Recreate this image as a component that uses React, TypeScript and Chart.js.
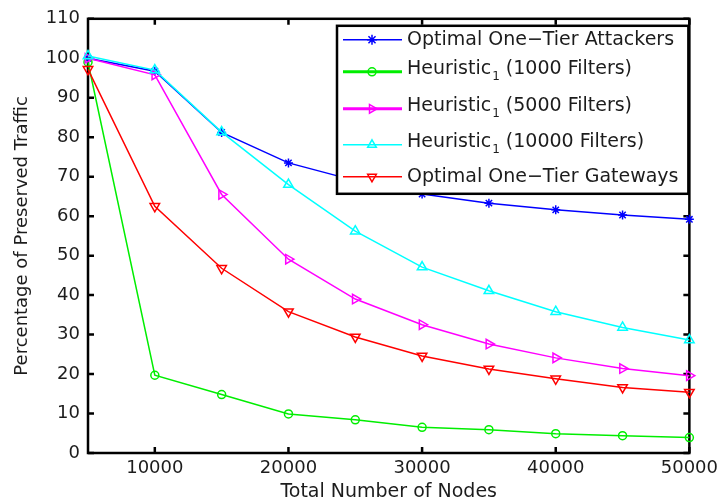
import React, { useEffect, useRef } from "react";
import { Chart, registerables } from "chart.js";

Chart.register(...registerables);

// ---- data ----
const xValues = [5000, 10000, 15000, 20000, 25000, 30000, 35000, 40000, 45000, 50000];
const xTickValues = [10000, 20000, 30000, 40000, 50000];
const yTickValues = [0, 10, 20, 30, 40, 50, 60, 70, 80, 90, 100, 110];

const attackers = [100, 96.7, 81.2, 73.5, 69.0, 65.6, 63.3, 61.6, 60.3, 59.2];
const heur1000 = [99, 19.7, 14.8, 9.9, 8.4, 6.5, 5.9, 4.9, 4.4, 3.9];
const heur5000 = [100, 95.8, 65.5, 49.1, 39.0, 32.5, 27.6, 24.1, 21.4, 19.6];
const heur10000 = [100.6, 97, 81.3, 68, 56.2, 47.1, 41.1, 35.8, 31.8, 28.6];
const gateways = [97.2, 62.5, 46.8, 35.8, 29.4, 24.6, 21.3, 18.8, 16.6, 15.4];

const legendItems = [
  { main: "Optimal One\u2212Tier Attackers", sub: "", rest: "", color: "#0000ff", marker: "star", lw: 1.5 },
  { main: "Heuristic", sub: "1", rest: " (1000 Filters)", color: "#00ee00", marker: "circle", lw: 3 },
  { main: "Heuristic", sub: "1", rest: " (5000 Filters)", color: "#ff00ff", marker: "right", lw: 3 },
  { main: "Heuristic", sub: "1", rest: " (10000 Filters)", color: "#00ffff", marker: "up", lw: 1.5 },
  { main: "Optimal One\u2212Tier Gateways", sub: "", rest: "", color: "#ff0000", marker: "down", lw: 1.5 },
];

const FONT = "'DejaVu Sans', sans-serif";
const TEXT = "#1c1c1c";

function drawMarker(ctx: CanvasRenderingContext2D, kind: string, x: number, y: number, r: number, color: string) {
  ctx.save();
  ctx.strokeStyle = color;
  ctx.lineWidth = 1.5;
  ctx.beginPath();
  if (kind === "circle") {
    ctx.arc(x, y, r, 0, Math.PI * 2);
  } else if (kind === "star") {
    for (let k = 0; k < 4; k++) {
      const a = (k * Math.PI) / 4;
      ctx.moveTo(x - Math.cos(a) * r, y - Math.sin(a) * r);
      ctx.lineTo(x + Math.cos(a) * r, y + Math.sin(a) * r);
    }
  } else {
    const rot = kind === "up" ? 0 : kind === "right" ? Math.PI / 2 : Math.PI;
    for (let k = 0; k < 3; k++) {
      const a = rot + (k * 2 * Math.PI) / 3 - Math.PI / 2;
      const px = x + Math.cos(a) * r;
      const py = y + Math.sin(a) * r;
      if (k === 0) ctx.moveTo(px, py);
      else ctx.lineTo(px, py);
    }
    ctx.closePath();
  }
  ctx.stroke();
  ctx.restore();
}

const boxPlugin = {
  id: "matlabBox",
  beforeDatasetsDraw(chart: any) {
    const { ctx, chartArea: a, scales } = chart;
    ctx.save();
    ctx.strokeStyle = "#000";
    ctx.lineWidth = 2.5;
    ctx.strokeRect(a.left, a.top, a.right - a.left, a.bottom - a.top);
    const tl = 6;
    ctx.beginPath();
    xTickValues.forEach((v) => {
      const px = scales.x.getPixelForValue(v);
      ctx.moveTo(px, a.bottom);
      ctx.lineTo(px, a.bottom - tl);
      ctx.moveTo(px, a.top);
      ctx.lineTo(px, a.top + tl);
    });
    yTickValues.forEach((v) => {
      const py = scales.y.getPixelForValue(v);
      ctx.moveTo(a.left, py);
      ctx.lineTo(a.left + tl, py);
      ctx.moveTo(a.right, py);
      ctx.lineTo(a.right - tl, py);
    });
    ctx.stroke();
    ctx.restore();
  },
};

const legendPlugin = {
  id: "boxLegend",
  afterDraw(chart: any) {
    const { ctx, chartArea: a } = chart;
    const left = a.left + 249;
    const top = a.top + 7;
    const right = a.right - 1;
    const bottom = a.top + 175;
    ctx.save();
    ctx.fillStyle = "#fff";
    ctx.fillRect(left, top, right - left, bottom - top);
    ctx.strokeStyle = "#000";
    ctx.lineWidth = 2.5;
    ctx.strokeRect(left, top, right - left, bottom - top);
    const rowY = [14, 46, 83, 119, 151];
    legendItems.forEach((it, i) => {
      const ly = top + rowY[i];
      ctx.strokeStyle = it.color;
      ctx.lineWidth = it.lw;
      ctx.beginPath();
      ctx.moveTo(left + 6, ly);
      ctx.lineTo(left + 65, ly);
      ctx.stroke();
      drawMarker(ctx, it.marker, left + 35, ly, it.marker === "circle" ? 4 : 5, it.color);
      const ty = it.sub ? ly - 3 : ly;
      let tx = left + 70;
      ctx.fillStyle = TEXT;
      ctx.textBaseline = "middle";
      ctx.textAlign = "left";
      ctx.font = `19px ${FONT}`;
      ctx.fillText(it.main, tx, ty);
      tx += ctx.measureText(it.main).width;
      if (it.sub) {
        ctx.font = `12px ${FONT}`;
        ctx.fillText(it.sub, tx + 1, ty + 8);
        tx += ctx.measureText(it.sub).width + 1;
        ctx.font = `19px ${FONT}`;
        ctx.fillText(it.rest, tx, ty);
      }
    });
    ctx.restore();
  },
};

export default function App() {
  const ref = useRef<HTMLCanvasElement>(null);
  useEffect(() => {
    const canvas = ref.current;
    if (!canvas) return;
    const mk = (label: string, data: number[], color: string, style: string, rotation: number, radius: number, order: number) => ({
      label,
      data: xValues.map((x, i) => ({ x, y: data[i] })),
      borderColor: color,
      backgroundColor: color,
      pointBorderColor: color,
      pointBackgroundColor: "rgba(0,0,0,0)",
      pointStyle: style,
      pointRotation: rotation,
      pointRadius: radius,
      pointBorderWidth: 1.5,
      borderWidth: 1.5,
      tension: 0,
      clip: false,
      order,
    });
    const tickFont = { family: FONT, size: 18 };
    const chart = new Chart(canvas, {
      type: "line",
      data: {
        datasets: [
          mk("Optimal One-Tier Attackers", attackers, "#0000ff", "star", 0, 4.5, 5),
          mk("Heuristic1 (1000 Filters)", heur1000, "#00ee00", "circle", 0, 4, 4),
          mk("Heuristic1 (5000 Filters)", heur5000, "#ff00ff", "triangle", 90, 5.5, 3),
          mk("Heuristic1 (10000 Filters)", heur10000, "#00ffff", "triangle", 0, 5.5, 2),
          mk("Optimal One-Tier Gateways", gateways, "#ff0000", "triangle", 180, 5.5, 1),
        ] as any,
      },
      options: {
        animation: false,
        responsive: false,
        devicePixelRatio: 1,
        layout: { padding: { left: 0, right: 30, top: 17, bottom: 0 } },
        plugins: { legend: { display: false }, tooltip: { enabled: false } },
        scales: {
          x: {
            type: "linear",
            min: 5000,
            max: 50000,
            afterBuildTicks: (s: any) => {
              s.ticks = xTickValues.map((v) => ({ value: v }));
            },
            afterFit: (s: any) => {
              s.height = 51;
            },
            grid: { display: false, drawTicks: false },
            border: { display: false },
            ticks: {
              padding: 5,
              font: tickFont,
              color: TEXT,
              maxRotation: 0,
              autoSkip: false,
              callback: (v: any) => String(v),
            },
            title: {
              display: true,
              text: "Total Number of Nodes",
              font: { family: FONT, size: 19 },
              color: TEXT,
              padding: { top: 0, bottom: 1 },
            },
          },
          y: {
            type: "linear",
            min: 0,
            max: 110,
            afterBuildTicks: (s: any) => {
              s.ticks = yTickValues.map((v) => ({ value: v }));
            },
            afterFit: (s: any) => {
              s.width = 88;
            },
            grid: { display: false, drawTicks: false },
            border: { display: false },
            ticks: {
              padding: 8,
              font: tickFont,
              color: TEXT,
              autoSkip: false,
              callback: (v: any) => String(v),
            },
            title: {
              display: true,
              text: "Percentage of Preserved Traffic",
              font: { family: FONT, size: 18 },
              color: TEXT,
              padding: { top: 12, bottom: 0 },
            },
          },
        },
      } as any,
      plugins: [boxPlugin, legendPlugin],
    });
    return () => chart.destroy();
  }, []);
  return (
    <div style={{ position: "absolute", left: 0, top: 0, width: 723, height: 504, background: "#fff" }}>
      <canvas ref={ref} width={723} height={504} style={{ display: "block", width: 723, height: 504 }} />
    </div>
  );
}
